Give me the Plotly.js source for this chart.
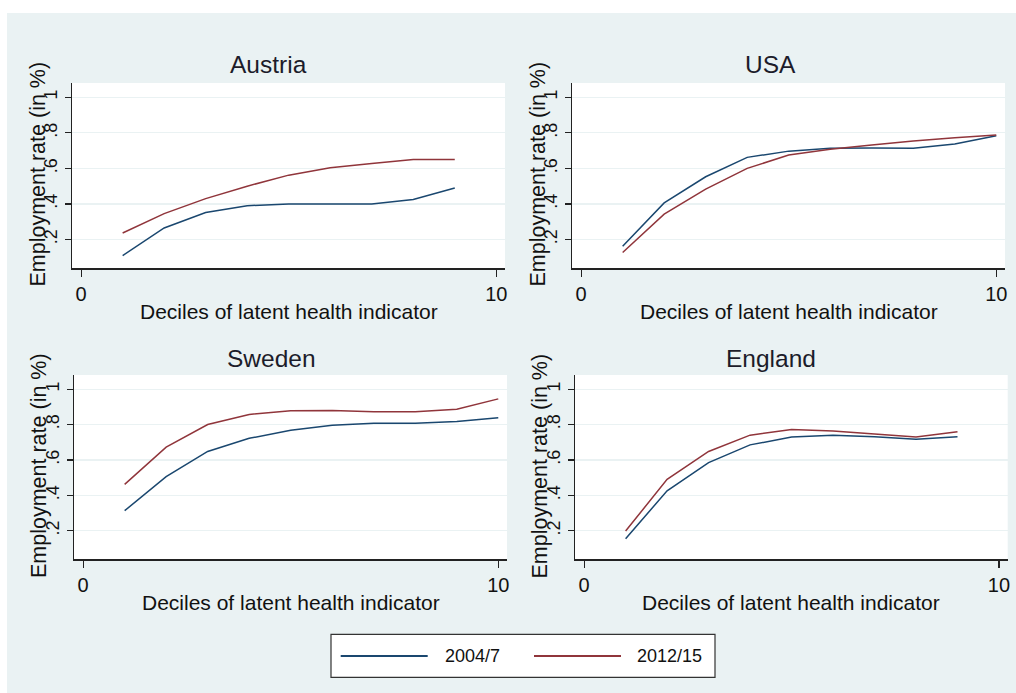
<!DOCTYPE html>
<html>
<head>
<meta charset="utf-8">
<script src="https://cdn.plot.ly/plotly-3.0.1.min.js"></script>
<style>
  html, body { margin: 0; padding: 0; background: #ffffff; }
  #chart { position: absolute; left: 7px; top: 13px; width: 1009px; height: 680px; }
</style>
</head>
<body>
<div id="chart"></div>
<script>
// ---- data ----
const deciles = [1, 2, 3, 4, 5, 6, 7, 8, 9, 10];
const seriesNames = ["2004/7", "2012/15"];
const panelTitles = ["Austria", "USA", "Sweden", "England"];

const austria2004 = [0.11, 0.265, 0.352, 0.39, 0.40, 0.40, 0.40, 0.425, 0.49];
const austria2012 = [0.237, 0.346, 0.43, 0.50, 0.562, 0.603, 0.628, 0.65, 0.65];

const usa2004 = [0.162, 0.406, 0.553, 0.662, 0.697, 0.713, 0.714, 0.713, 0.737, 0.784];
const usa2012 = [0.127, 0.343, 0.483, 0.60, 0.675, 0.707, 0.731, 0.754, 0.772, 0.787];

const sweden2004 = [0.313, 0.505, 0.648, 0.722, 0.768, 0.796, 0.807, 0.807, 0.817, 0.839];
const sweden2012 = [0.462, 0.672, 0.80, 0.857, 0.878, 0.88, 0.872, 0.872, 0.887, 0.945];

const england2004 = [0.155, 0.425, 0.585, 0.685, 0.729, 0.74, 0.731, 0.717, 0.731];
const england2012 = [0.198, 0.49, 0.648, 0.74, 0.772, 0.763, 0.746, 0.729, 0.759];

const xTickVals = [0, 10];
const xTickText = ["0", "10"];
const yTickVals = [0.2, 0.4, 0.6, 0.8, 1];
const yTickText = [".2", ".4", ".6", ".8", "1"];
const xTitle = "Deciles of latent health indicator";
const yTitle = "Employment rate (in %)";

// ---- style ----
const W = 1009, H = 680;
const FONT = "Liberation Sans, Arial, sans-serif";
const BLUE = "#1A476F", RED = "#90353B";
const BG = "#EAF2F3";
const INK = "#111111";

const panelData = [
  [austria2004, austria2012],
  [usa2004, usa2012],
  [sweden2004, sweden2012],
  [england2004, england2012]
];

// plot-area pixel boxes inside the div [x0, x1, y0(top), y1(bottom)]
const boxes = [
  [65, 498, 70, 255],
  [565, 998, 70, 255],
  [67, 500, 362, 546],
  [568, 1000.7, 362, 546]
];
// label pixel positions: title center, y-title center x
const titlePos = [[261, 52], [763, 52], [264, 345.5], [764, 345.5]];
const yTitleX = [30, 530, 32, 532.5];

const px = v => v / W;
const py = v => 1 - v / H;

const traces = [];
const layout = {
  width: W, height: H,
  margin: {l: 0, r: 0, t: 0, b: 0},
  paper_bgcolor: BG,
  plot_bgcolor: "#ffffff",
  showlegend: false,
  font: {family: FONT, color: INK},
  annotations: [],
  shapes: []
};

panelData.forEach((pair, i) => {
  const n = i + 1;
  const xa = n === 1 ? "x" : "x" + n;
  const ya = n === 1 ? "y" : "y" + n;
  const b = boxes[i];
  pair.forEach((vals, s) => {
    traces.push({
      type: "scatter", mode: "lines",
      x: deciles.slice(0, vals.length), y: vals,
      xaxis: xa, yaxis: ya,
      name: seriesNames[s],
      line: {color: s === 0 ? BLUE : RED, width: 1.5},
      hoverinfo: "skip"
    });
  });
  layout["xaxis" + (n === 1 ? "" : n)] = {
    domain: [px(b[0]), px(b[1])],
    anchor: ya,
    range: [-0.22, 10.21],
    tickmode: "array", tickvals: xTickVals, ticktext: xTickText,
    ticks: "outside", ticklen: 7, tickwidth: 1.2, tickcolor: "#222",
    showline: true, linecolor: "#222", linewidth: 1.5,
    showgrid: false, zeroline: false,
    tickfont: {size: 20, color: INK, family: FONT},
    fixedrange: true
  };
  layout["yaxis" + (n === 1 ? "" : n)] = {
    domain: [py(b[3]), py(b[2])],
    anchor: xa,
    range: [0.04, 1.08],
    tickmode: "array", tickvals: yTickVals, ticktext: yTickText,
    tickangle: -90,
    ticks: "outside", ticklen: 6, tickwidth: 1.2, tickcolor: "#222",
    showline: true, linecolor: "#222", linewidth: 1.5,
    showgrid: true, gridcolor: BG, gridwidth: 1.2, zeroline: false,
    tickfont: {size: 18, color: INK, family: FONT},
    fixedrange: true
  };
  // panel title
  layout.annotations.push({
    xref: "paper", yref: "paper", x: px(titlePos[i][0]), y: py(titlePos[i][1]),
    xanchor: "center", yanchor: "middle", showarrow: false,
    text: panelTitles[i], font: {size: 24.5, color: "#1c1c2a", family: FONT}
  });
  // x title
  layout.annotations.push({
    xref: "paper", yref: "paper", x: px((b[0] + b[1]) / 2), y: py(b[3] + 43),
    xanchor: "center", yanchor: "middle", showarrow: false,
    text: xTitle, font: {size: 21, color: INK, family: FONT}
  });
  // y title
  layout.annotations.push({
    xref: "paper", yref: "paper", x: px(yTitleX[i]), y: py((b[2] + b[3]) / 2 - 1),
    xanchor: "center", yanchor: "middle", showarrow: false, textangle: -90,
    text: yTitle, font: {size: 21.5, color: INK, family: FONT}
  });
});

// ---- legend (drawn by hand) ----
layout.shapes.push({
  type: "rect", xref: "paper", yref: "paper",
  x0: px(324), x1: px(708), y0: py(664.3), y1: py(621.3),
  fillcolor: "#ffffff", line: {color: "#333", width: 1.2}
});
const legendItems = [
  {lx0: 333.7, lx1: 420.7, tx: 435.7, color: BLUE},
  {lx0: 527, lx1: 614, tx: 628, color: RED}
];
legendItems.forEach((it, k) => {
  layout.shapes.push({
    type: "line", xref: "paper", yref: "paper",
    x0: px(it.lx0), x1: px(it.lx1), y0: py(643), y1: py(643),
    line: {color: it.color, width: 2.2}
  });
  layout.annotations.push({
    xref: "paper", yref: "paper", x: px(it.tx), y: py(643),
    xanchor: "left", yanchor: "middle", showarrow: false,
    text: seriesNames[k], font: {size: 18, color: INK, family: FONT}
  });
});

Plotly.newPlot("chart", traces, layout, {displayModeBar: false, staticPlot: true});
</script>
</body>
</html>
